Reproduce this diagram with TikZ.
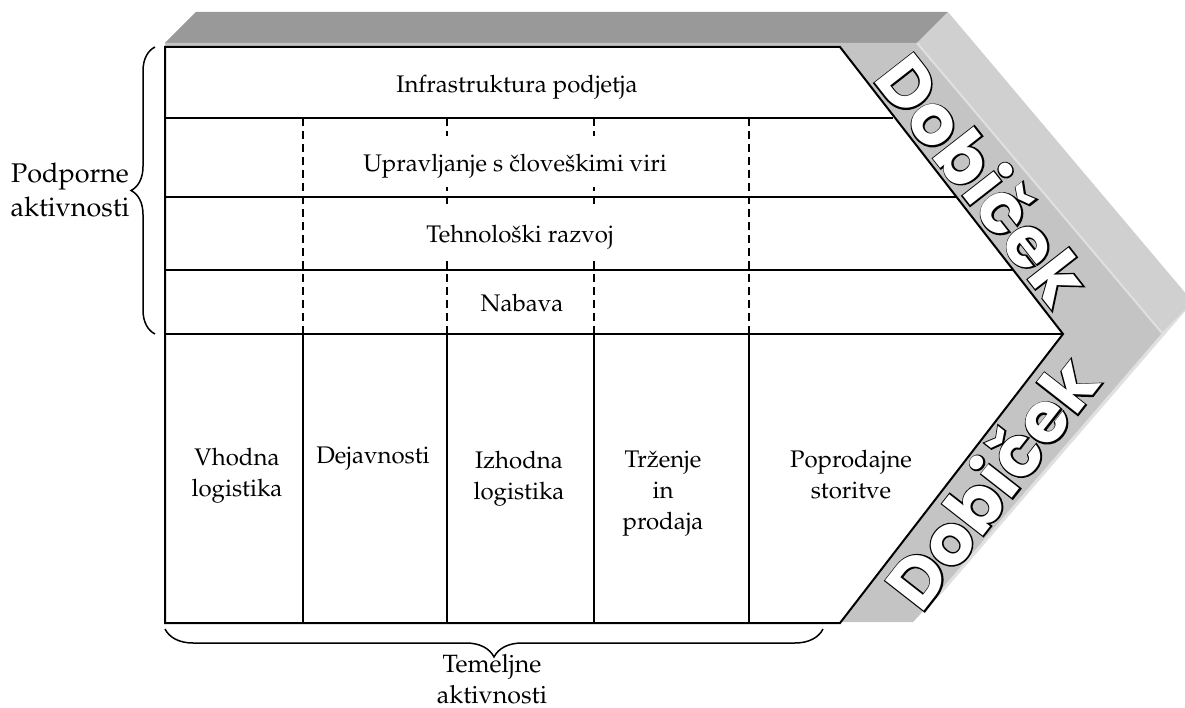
\documentclass[tikz,border=0pt]{standalone}
\usepackage[T1]{fontenc}
\usepackage{fontspec}
\usetikzlibrary{decorations.pathreplacing}
\newfontfamily\dobfont{Poppins}[BoldFeatures={FakeBold=4}]
\newfontfamily\dobwhite{Poppins}
\newcommand\palfont{\fontencoding{T1}\fontfamily{ppl}\fontsize{24}{31}\selectfont}
\newcommand\palbig{\fontencoding{T1}\fontfamily{ppl}\fontsize{27}{34}\selectfont}
\newcommand\palmid{\fontencoding{T1}\fontfamily{ppl}\fontsize{25}{31}\selectfont}
\newcommand\outlined[1]{\rlap{\color{black}\dobfont\bfseries #1}{\color{white}\dobwhite\bfseries #1}}
\definecolor{topgray}{RGB}{153,153,153}
\definecolor{sidegray}{RGB}{208,208,208}
\definecolor{bandgray}{RGB}{196,196,196}
\definecolor{edgegray}{RGB}{224,224,224}
\begin{document}
\begin{tikzpicture}[x=1pt,y=-1pt,line join=miter,
  frame/.style={line width=2pt},
  inner/.style={line width=1.8pt},
  col/.style={line width=1.5pt},
  dashcol/.style={line width=1.4pt,dash pattern=on 8pt off 5pt},
  lbl/.style={font=\palfont,inner sep=0pt,anchor=base},
  multi/.style={font=\palfont,inner sep=0pt,align=center,text width=#1,anchor=base},
  multi/.default=150pt,
  cover/.style={font=\palfont,fill=white,inner xsep=4pt,inner ysep=3pt,text height=33pt,text depth=12pt,anchor=base},
  bracestyle/.style={decorate,line width=1.5pt},
  dob/.style={font=\fontsize{70}{70}\selectfont,inner sep=0pt}]
\useasboundingbox (0,0) rectangle (1185,708);
% 3D faces
\fill[topgray] (165,43) -- (196,12) -- (948,12) -- (917,43) -- cycle;
\fill[sidegray] (917,43) -- (948,12) -- (1193,302) -- (1162,333) -- cycle;
\fill[edgegray] (1162,333) -- (1193,302) -- (944,591) -- (913,622) -- cycle;
\fill[bandgray] (165,43) -- (917,43) -- (1162,333) -- (913,622) -- (165,622) -- cycle;
\draw[edgegray,line width=2pt] (917,43) -- (1162,333);
% table
\coordinate (tl) at (165,47);
\coordinate (tr) at (840,47);
\coordinate (tip) at (1063,334);
\coordinate (br) at (840,623);
\coordinate (bl) at (165,623);
\draw[frame,fill=white] (tl) -- (tr) -- (tip) -- (br) -- (bl) -- cycle;
\draw[inner] (165,118) -- (893,118);
\draw[inner] (165,197) -- (956,197);
\draw[inner] (165,270) -- (1013,270);
\draw[inner] (165,334) -- (tip);
\foreach \x in {303,447,594,749}{
  \draw[col] (\x,334) -- (\x,623);
  \draw[dashcol] (\x,118) -- (\x,334);
}
% support activities
\node[lbl] (infra) at (517,93) {Infrastruktura podjetja};
\node[cover] (hr) at (515,172) {Upravljanje s \v{c}love\v{s}kimi viri};
\node[cover] (tech) at (520,243) {Tehnolo\v{s}ki razvoj};
\node[lbl] (nab) at (522,312) {Nabava};
% primary activities
\node[multi=130pt] (vhod) at (237,465) {Vhodna\\logistika};
\node[multi=140pt] (dej) at (373,463) {Dejavnosti};
\node[multi=140pt] (izh) at (519,468) {Izhodna\\logistika};
\node[multi=140pt] (trz) at (663,467) {Tr\v{z}enje\\in\\prodaja};
\node[multi=170pt] (pop) at (851,467) {Poprodajne\\storitve};
% profit
\node[dob,rotate=-52] (dob1) at (984,178) {\outlined{Dobiček}};
\node[dob,rotate=52] (dob2) at (990,482) {\outlined{Dobiček}};
% braces
\coordinate (lb1) at (155,334);
\coordinate (lb2) at (155,47);
\draw[bracestyle,decoration={brace,amplitude=24pt}] (lb1) -- (lb2);
\node[multi=130pt,font=\palbig] (podp) at (70,183) {Podporne\\aktivnosti};
\coordinate (bb1) at (823,629);
\coordinate (bb2) at (165,629);
\draw[bracestyle,decoration={brace,amplitude=28pt}] (bb1) -- (bb2);
\node[multi=150pt,font=\palmid] (tem) at (492,672) {Temeljne\\aktivnosti};
\end{tikzpicture}
\end{document}
